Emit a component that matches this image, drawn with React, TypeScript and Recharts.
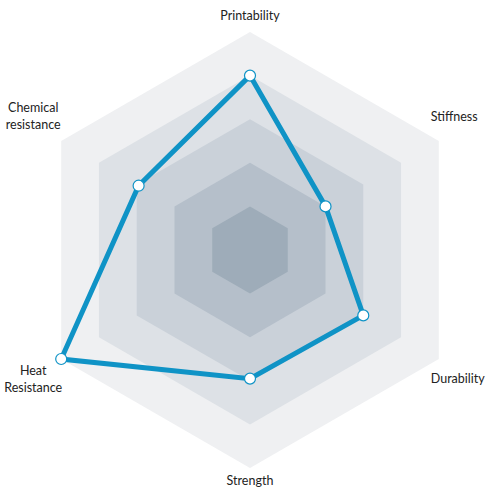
import React from 'react';
import { RadarChart, Radar, PolarAngleAxis, PolarRadiusAxis } from 'recharts';

const categories = ['Printability', 'Stiffness', 'Durability', 'Strength', 'Heat Resistance', 'Chemical resistance'];
const scores = [4, 2, 3, 2.95, 5, 2.95];
const levels = [5, 4, 3, 2, 1];
const levelColors = ['#eff0f2', '#dde1e6', '#cad1d9', '#b5bfca', '#9eacb9'];

const labelLines: Record<string, string[]> = {
  'Heat Resistance': ['Heat', 'Resistance'],
  'Chemical resistance': ['Chemical', 'resistance'],
};

const data = categories.map((name, i) => {
  const row: Record<string, any> = { name, score: scores[i] };
  levels.forEach((l) => {
    row['level' + l] = l;
  });
  return row;
});

const CX = 250;
const CY = 250;
const R = 218;
const BLUE = '#0f93c6';

function Tick(props: any) {
  const { x, y, payload } = props;
  const dx = x - CX;
  const dy = y - CY;
  const len = Math.sqrt(dx * dx + dy * dy) || 1;
  // outer vertex of the grid on this axis
  const vx = CX + (dx / len) * R;
  const vy = CY + (dy / len) * R;
  const lines = labelLines[payload.value] || [payload.value];
  const lh = 17;

  let tx = vx;
  let ty = vy;
  let anchor: 'start' | 'middle' | 'end' = 'middle';
  if (Math.abs(dx) < 1) {
    ty = dy < 0 ? vy - 16 : vy + 13;
  } else if (dx > 0) {
    anchor = 'start';
    tx = vx - 8;
    ty = dy < 0 ? vy - 24 : vy + 20;
  } else {
    tx = vx - 28;
    ty = dy < 0 ? vy - 25 : vy + 20;
  }
  const start = ty - ((lines.length - 1) * lh) / 2;
  return (
    <text x={tx} y={start} textAnchor={anchor} fill="#222" fontSize={12.5} fontFamily="Lato">
      {lines.map((ln, i) => (
        <tspan key={i} x={tx} y={start + i * lh} dy="0.35em">
          {ln}
        </tspan>
      ))}
    </text>
  );
}

function Dot(props: any) {
  const { cx, cy, index } = props;
  return <circle key={index} cx={cx} cy={cy} r={5.5} fill="#fff" stroke={BLUE} strokeWidth={1.2} />;
}

export default function App() {
  return (
    <div style={{ position: 'absolute', left: 0, top: 0, width: 500, height: 500, background: '#fff' }}>
      <RadarChart
        width={500}
        height={500}
        data={data}
        cx={CX}
        cy={CY}
        outerRadius={R}
        margin={{ top: 0, right: 0, bottom: 0, left: 0 }}
        style={{ overflow: 'visible' }}
      >
        <PolarAngleAxis dataKey="name" tick={<Tick />} axisLine={false} tickLine={false} />
        <PolarRadiusAxis domain={[0, 5]} tick={false} axisLine={false} />
        {levels.map((l, i) => (
          <Radar
            key={l}
            dataKey={'level' + l}
            stroke="none"
            fill={levelColors[i]}
            fillOpacity={1}
            isAnimationActive={false}
          />
        ))}
        <Radar
          dataKey="score"
          stroke={BLUE}
          strokeWidth={5}
          fill="none"
          fillOpacity={0}
          dot={Dot}
          isAnimationActive={false}
        />
      </RadarChart>
    </div>
  );
}
